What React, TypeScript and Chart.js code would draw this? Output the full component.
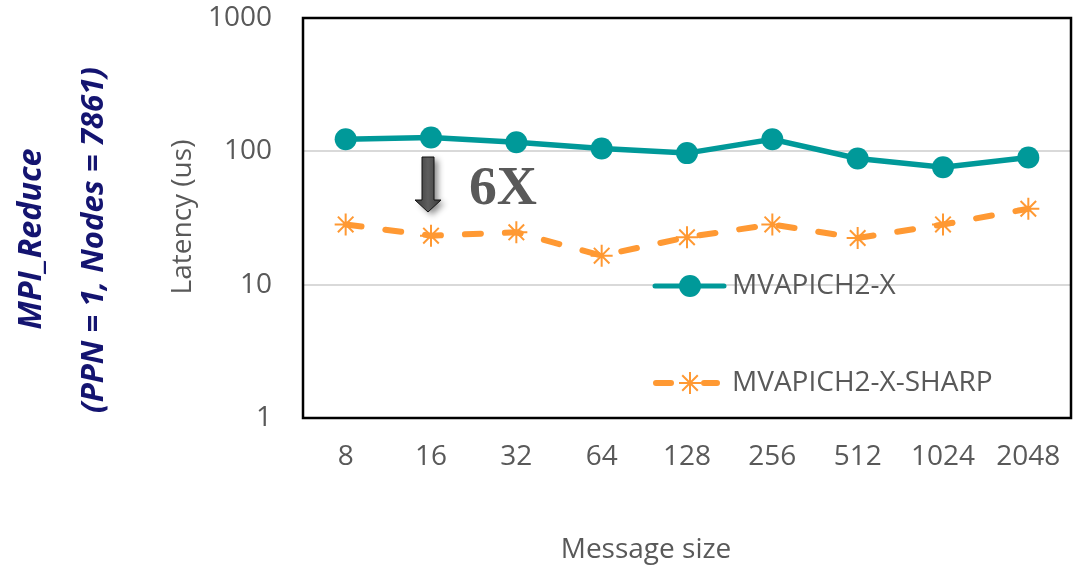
import React, { useEffect, useRef } from 'react';
import { Chart, registerables } from 'chart.js';

Chart.register(...registerables);

const categories = ['8', '16', '32', '64', '128', '256', '512', '1024', '2048'];
const mvapich2x = [123, 127, 117, 105, 97, 123, 88.5, 76, 90];
const mvapich2xSharp = [28.3, 23.3, 24.7, 16.5, 22.7, 28.3, 22.4, 28.3, 37.1];
const yTickValues = [1, 10, 100, 1000];
const seriesNames = ['MVAPICH2-X', 'MVAPICH2-X-SHARP'];
const yAxisTitle = 'Latency (us)';
const xAxisTitle = 'Message size';
const sideTitle = ['MPI_Reduce', '(PPN = 1, Nodes = 7861)'];
const annotationText = '6X';

const TEAL = '#009999';
const ORANGE = '#FF9933';
const GRAY = '#595959';
const NAVY = '#141470';
const FONT = '"Open Sans", sans-serif';

function fitFont(ctx: CanvasRenderingContext2D, text: string, target: number, style: string, family: string) {
  ctx.font = `${style} 100px ${family}`;
  const w = ctx.measureText(text).width;
  const size = (100 * target) / w;
  ctx.font = `${style} ${size}px ${family}`;
}

function drawStar(ctx: CanvasRenderingContext2D, x: number, y: number, r: number) {
  ctx.beginPath();
  for (let i = 0; i < 4; i++) {
    const a = (i * Math.PI) / 4;
    ctx.moveTo(x - Math.cos(a) * r, y - Math.sin(a) * r);
    ctx.lineTo(x + Math.cos(a) * r, y + Math.sin(a) * r);
  }
  ctx.stroke();
}

const overlay = {
  id: 'overlay',
  afterDatasetsDraw(chart: any) {
    const ctx: CanvasRenderingContext2D = chart.ctx;
    ctx.save();
    // legend entry 1
    ctx.strokeStyle = TEAL;
    ctx.lineWidth = 5;
    ctx.lineCap = 'round';
    ctx.beginPath();
    ctx.moveTo(655, 286);
    ctx.lineTo(724, 286);
    ctx.stroke();
    ctx.fillStyle = TEAL;
    ctx.beginPath();
    ctx.arc(690, 286, 11, 0, Math.PI * 2);
    ctx.fill();
    // legend entry 2
    ctx.strokeStyle = ORANGE;
    ctx.lineWidth = 6;
    ctx.beginPath();
    ctx.moveTo(656, 383);
    ctx.lineTo(671, 383);
    ctx.moveTo(704, 383);
    ctx.lineTo(717, 383);
    ctx.stroke();
    ctx.lineWidth = 2;
    ctx.lineCap = 'butt';
    drawStar(ctx, 690, 383, 11);
    ctx.fillStyle = GRAY;
    ctx.textBaseline = 'middle';
    ctx.textAlign = 'left';
    ctx.font = `28px ${FONT}`;
    ctx.fillText(seriesNames[0], 732, 286);
    ctx.fillText(seriesNames[1], 732, 383);
    ctx.restore();
  },
  afterDraw(chart: any) {
    const ctx: CanvasRenderingContext2D = chart.ctx;
    const ca = chart.chartArea;
    ctx.save();
    // frame
    ctx.strokeStyle = '#000';
    ctx.lineWidth = 2.5;
    ctx.strokeRect(ca.left, ca.top, ca.right - ca.left, ca.bottom - ca.top);

    // y title
    ctx.fillStyle = GRAY;
    ctx.textAlign = 'center';
    ctx.textBaseline = 'middle';
    ctx.save();
    ctx.translate(183, 217);
    ctx.rotate(-Math.PI / 2);
    ctx.font = `28px ${FONT}`;
    ctx.fillText(yAxisTitle, 0, 0);
    ctx.restore();

    // x title
    ctx.font = `28px ${FONT}`;
    ctx.textBaseline = 'alphabetic';
    ctx.fillText(xAxisTitle, 646, 558);

    // side titles
    ctx.fillStyle = NAVY;
    ctx.textBaseline = 'middle';
    ctx.save();
    ctx.translate(32, 239);
    ctx.rotate(-Math.PI / 2);
    fitFont(ctx, sideTitle[0], 181, 'italic bold', FONT);
    ctx.fillText(sideTitle[0], 0, 0);
    ctx.restore();
    ctx.save();
    ctx.translate(94, 240);
    ctx.rotate(-Math.PI / 2);
    fitFont(ctx, sideTitle[1], 346, 'italic bold', FONT);
    ctx.fillText(sideTitle[1], 0, 0);
    ctx.restore();

    // arrow
    ctx.save();
    ctx.shadowColor = 'rgba(0,0,0,0.45)';
    ctx.shadowBlur = 6;
    ctx.shadowOffsetX = 4;
    ctx.shadowOffsetY = 3;
    const g = ctx.createLinearGradient(415, 0, 441, 0);
    g.addColorStop(0, '#3a3a3a');
    g.addColorStop(0.5, '#5e5e5e');
    g.addColorStop(1, '#3a3a3a');
    ctx.fillStyle = g;
    ctx.beginPath();
    ctx.moveTo(422, 157);
    ctx.lineTo(434, 157);
    ctx.lineTo(434, 200);
    ctx.lineTo(441, 200);
    ctx.lineTo(428, 212);
    ctx.lineTo(415, 200);
    ctx.lineTo(422, 200);
    ctx.closePath();
    ctx.fill();
    ctx.shadowColor = 'transparent';
    ctx.strokeStyle = '#111';
    ctx.lineWidth = 1;
    ctx.stroke();
    ctx.restore();

    // 6X
    ctx.fillStyle = GRAY;
    ctx.textAlign = 'left';
    ctx.textBaseline = 'alphabetic';
    fitFont(ctx, annotationText, 68, 'bold', '"Liberation Serif", serif');
    ctx.fillText(annotationText, 469, 204);
    ctx.restore();
  },
};

export default function App() {
  const ref = useRef<HTMLCanvasElement | null>(null);
  useEffect(() => {
    document.body.style.margin = '0';
    const canvas = ref.current!;
    const chart = new Chart(canvas, {
      type: 'line',
      data: {
        labels: categories,
        datasets: [
          {
            label: seriesNames[0],
            data: mvapich2x,
            borderColor: TEAL,
            backgroundColor: TEAL,
            borderWidth: 5.5,
            pointRadius: 11,
            pointStyle: 'circle',
            pointBackgroundColor: TEAL,
            pointBorderColor: TEAL,
            pointBorderWidth: 0,
          },
          {
            label: seriesNames[1],
            data: mvapich2xSharp,
            borderColor: ORANGE,
            backgroundColor: ORANGE,
            borderWidth: 6,
            borderDash: [16, 24],
            borderCapStyle: 'round',
            pointRadius: 11,
            pointStyle: 'star',
            pointBorderColor: ORANGE,
            pointBorderWidth: 2,
          },
        ],
      },
      options: {
        animation: false,
        responsive: false,
        layout: { padding: { top: 18, right: 11, left: 0, bottom: 0 } },
        plugins: {
          legend: { display: false },
          tooltip: { enabled: false },
        },
        scales: {
          x: {
            type: 'category',
            offset: true,
            grid: { display: false, drawTicks: false },
            border: { display: false },
            ticks: { color: GRAY, font: { family: FONT, size: 28 }, padding: 22, maxRotation: 0 },
            afterFit: (s: any) => {
              s.height = 150;
              s.paddingLeft = 0;
              s.paddingRight = 0;
            },
          },
          y: {
            type: 'logarithmic',
            min: 1,
            max: 1000,
            grid: { color: '#d9d9d9', lineWidth: 2, drawTicks: false },
            border: { display: false },
            ticks: {
              color: GRAY,
              font: { family: FONT, size: 28 },
              padding: 31,
              callback: (v: any) => String(v),
            },
            afterBuildTicks: (s: any) => {
              s.ticks = yTickValues.map((v) => ({ value: v }));
            },
            afterFit: (s: any) => {
              s.width = 303;
              s.paddingTop = 0;
              s.paddingBottom = 0;
            },
          },
        },
      },
      plugins: [overlay],
    } as any);
    return () => chart.destroy();
  }, []);
  return <canvas ref={ref} width={1084} height={568} style={{ display: 'block' }} />;
}
